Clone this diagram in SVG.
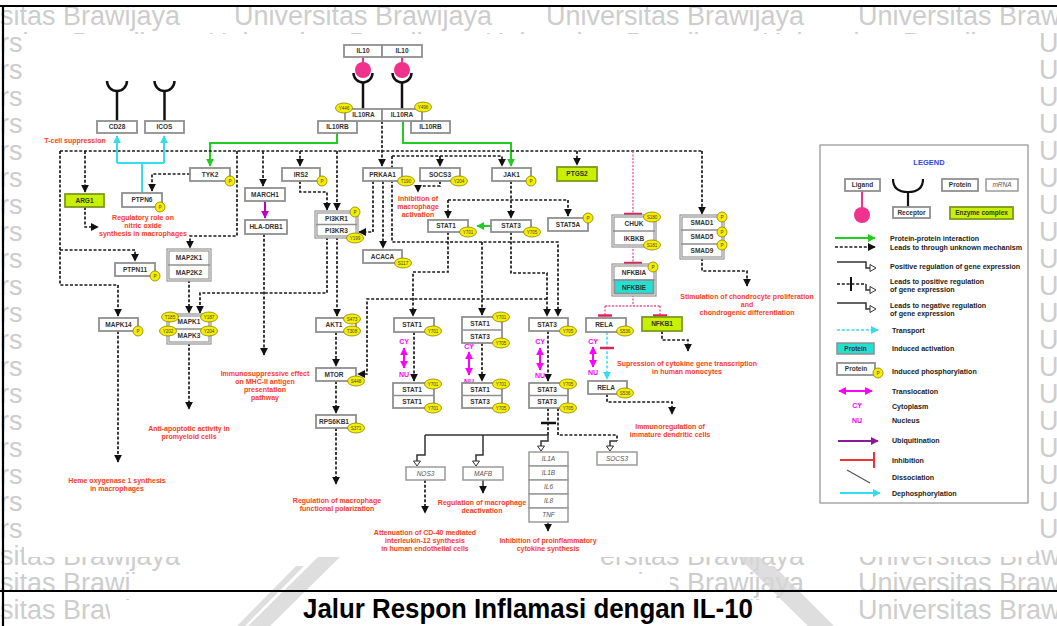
<svg xmlns="http://www.w3.org/2000/svg" width="1057" height="626" viewBox="0 0 1057 626">
<style>
.bx{fill:#fff;stroke:#8f8f8f;stroke-width:1.8}
.cx{fill:#fff;stroke:#949494;stroke-width:3.2}
.cxi{fill:none;stroke:#fff;stroke-width:0.8}
.sep{stroke:#8f8f8f;stroke-width:1.5}
.enz{fill:#c8f000;stroke:#7f9a20;stroke-width:1.8}
.act{fill:#22e0d2;stroke:#8f8f8f;stroke-width:1.5}
.mr{fill:#fff;stroke:#9a9a9a;stroke-width:1.5}
.t{font-family:"Liberation Sans",Arial,sans-serif;font-weight:bold;font-size:6.5px;fill:#333;text-anchor:middle}
.ti{font-family:"Liberation Sans",Arial,sans-serif;font-style:italic;font-size:6.5px;fill:#555;text-anchor:middle}
.n{font-family:"Liberation Sans",Arial,sans-serif;font-weight:bold;font-size:7px;fill:#ff3b1f;text-anchor:middle}
.s ellipse,.p circle{fill:#f6ee00;stroke:#8a8200;stroke-width:0.8}
.s text,.p text{font-family:"Liberation Sans",Arial,sans-serif;font-size:4.6px;fill:#444;text-anchor:middle}
.d{fill:none;stroke:#1a1a1a;stroke-width:1.7;stroke-dasharray:3 1.8}
.sl{fill:none;stroke:#333;stroke-width:1.5}
.g{fill:none;stroke:#22cc22;stroke-width:2}
.c{fill:none;stroke:#33dded;stroke-width:2}
.cd{fill:none;stroke:#33dded;stroke-width:1.5;stroke-dasharray:3 1.8}
.pk{fill:none;stroke:#f0508a;stroke-width:1.3;stroke-dasharray:2 1.5}
.bar{stroke:#e0245a;stroke-width:2.5}
.mg{stroke:#ff00ff;stroke-width:2}
.cy{font-family:"Liberation Sans",Arial,sans-serif;font-weight:bold;font-size:7px;fill:#ff00ff;text-anchor:middle}
.lg{font-family:"Liberation Sans",Arial,sans-serif;font-weight:bold;font-size:7.1px;fill:#222}
.tri{fill:#fff;stroke:#333;stroke-width:1}
.wm{font-family:"Liberation Sans Narrow","Liberation Sans",Arial,sans-serif;font-size:27px;fill:#cdcdcd}
</style>
<defs>
<marker id="ah" viewBox="0 0 10 10" refX="9" refY="5" markerWidth="8" markerHeight="8" markerUnits="userSpaceOnUse" orient="auto"><path d="M0,0 L10,5 L0,10 z" fill="#111"/></marker>
<marker id="ag" viewBox="0 0 10 10" refX="9" refY="5" markerWidth="8" markerHeight="8" markerUnits="userSpaceOnUse" orient="auto"><path d="M0,0 L10,5 L0,10 z" fill="#22cc22"/></marker>
<marker id="ac" viewBox="0 0 10 10" refX="9" refY="5" markerWidth="8" markerHeight="8" markerUnits="userSpaceOnUse" orient="auto"><path d="M0,0 L10,5 L0,10 z" fill="#33dded"/></marker>
<marker id="am" viewBox="0 0 10 10" refX="9" refY="5" markerWidth="8" markerHeight="8" markerUnits="userSpaceOnUse" orient="auto-start-reverse"><path d="M0,0 L10,5 L0,10 z" fill="#ff00ff"/></marker>
<marker id="amv" viewBox="0 0 10 10" refX="9" refY="5" markerWidth="8" markerHeight="8" markerUnits="userSpaceOnUse" orient="auto"><path d="M0,0 L10,5 L0,10 z" fill="#c000c0"/></marker>
<marker id="ap" viewBox="0 0 10 10" refX="9" refY="5" markerWidth="8" markerHeight="8" markerUnits="userSpaceOnUse" orient="auto"><path d="M0,0 L10,5 L0,10 z" fill="#8b1a9b"/></marker>
<!-- watermark rows: wide spacing (edges of the page) and tight spacing (behind the figure) -->
<g id="wmA">
<text class="wm" x="-78" textLength="258" lengthAdjust="spacingAndGlyphs">Universitas Brawijaya</text>
<text class="wm" x="234" textLength="258" lengthAdjust="spacingAndGlyphs">Universitas Brawijaya</text>
<text class="wm" x="546" textLength="258" lengthAdjust="spacingAndGlyphs">Universitas Brawijaya</text>
<text class="wm" x="858" textLength="258" lengthAdjust="spacingAndGlyphs">Universitas Brawijaya</text>
</g>
<g id="wmB">
<text class="wm" x="-69" textLength="258" lengthAdjust="spacingAndGlyphs">Universitas Brawijaya</text>
<text class="wm" x="208" textLength="258" lengthAdjust="spacingAndGlyphs">Universitas Brawijaya</text>
<text class="wm" x="485" textLength="258" lengthAdjust="spacingAndGlyphs">Universitas Brawijaya</text>
<text class="wm" x="762" textLength="258" lengthAdjust="spacingAndGlyphs">Universitas Brawijaya</text>
<text class="wm" x="1039" textLength="258" lengthAdjust="spacingAndGlyphs">Universitas Brawijaya</text>
</g>
</defs>

<!-- page background with watermark -->
<rect x="0" y="0" width="1057" height="626" fill="#fff"/>
<g id="watermark">
<use href="#wmA" y="25"/>
<use href="#wmB" y="52"/><use href="#wmB" y="79"/><use href="#wmB" y="106"/>
<use href="#wmB" y="133"/><use href="#wmB" y="160"/><use href="#wmB" y="187"/><use href="#wmB" y="214"/>
<use href="#wmB" y="241"/><use href="#wmB" y="268"/><use href="#wmB" y="295"/><use href="#wmB" y="322"/>
<use href="#wmB" y="349"/><use href="#wmB" y="376"/><use href="#wmB" y="403"/><use href="#wmB" y="430"/>
<use href="#wmB" y="457"/><use href="#wmB" y="484"/><use href="#wmB" y="511"/><use href="#wmB" y="538"/>
<use href="#wmA" y="565"/><use href="#wmA" y="592"/><use href="#wmA" y="619"/>
<!-- emblem area: blank interior with two pairs of diagonal strokes -->
<rect x="200" y="557" width="400" height="17" fill="#fff"/>
<rect x="130" y="574" width="540" height="26" fill="#fff"/>
<rect x="110" y="600" width="748" height="26" fill="#fff"/>
<g fill="#d6d6d6" opacity="0.8">
<polygon points="318,557 340,557 270,626 248,626"/>
<polygon points="296,566 304,566 245,626 237,626"/>
<polygon points="738,557 760,557 830,626 808,626"/>
<polygon points="766,566 774,566 834,626 826,626"/>
</g>
</g>
<rect id="canvas" x="24" y="34" width="1012" height="523" fill="#fff"/>

<!-- frame and caption -->
<g id="frame" stroke="#000" stroke-width="2.2">
<line x1="0" y1="6" x2="1057" y2="6"/>
<line x1="3" y1="6" x2="3" y2="626"/>
<line x1="0" y1="591" x2="1057" y2="591"/>
</g>
<text id="caption" x="528" y="618" text-anchor="middle" font-family="Liberation Sans Narrow, Liberation Sans, Arial, sans-serif" font-weight="bold" font-size="27" fill="#000" textLength="450" lengthAdjust="spacingAndGlyphs">Jalur Respon Inflamasi dengan IL-10</text>

<!-- connectors -->
<g id="edges">
<path class="g" d="M337,133 V143 H210 V166" marker-end="url(#ag)"/>
<path class="g" d="M403,121 V143 H511 V166" marker-end="url(#ag)"/>
<path class="g" d="M491,226 H477" marker-end="url(#ag)"/>

<path class="d" d="M60,151 H702"/>
<path class="d" d="M60,151 V285 H118 V316" marker-end="url(#ah)"/>
<path class="d" d="M60,250 H135 V261" marker-end="url(#ah)"/>
<path class="d" d="M85,151 V192" marker-end="url(#ah)"/>
<path class="d" d="M85,207 V227 H98" marker-end="url(#ah)"/>
<path class="d" d="M237,151 V236 H190 V248" marker-end="url(#ah)"/>
<path class="d" d="M263,151 V186" marker-end="url(#ah)"/>
<path class="d" d="M300,151 V166" marker-end="url(#ah)"/>
<path class="d" d="M337,151 V210" marker-end="url(#ah)"/>
<path class="d" d="M382,121 V166" marker-end="url(#ah)"/>
<path class="d" d="M577,151 V165" marker-end="url(#ah)"/>
<path class="d" d="M702,151 V214" marker-end="url(#ah)"/>
<path class="d" d="M190,174 H152 V191" marker-end="url(#ah)"/>
<path class="d" d="M392,156 H502 V166" marker-end="url(#ah)"/>
<path class="d" d="M440,156 V166" marker-end="url(#ah)"/>
<path class="d" d="M392,156 V242 H558 V316" marker-end="url(#ah)"/>
<path class="d" d="M300,181 V192 H327 V210" marker-end="url(#ah)"/>
<path class="d" d="M373,181 V232 H359" marker-end="url(#ah)"/>
<path class="d" d="M383,181 V248" marker-end="url(#ah)"/>
<path class="d" d="M440,181 V186 H418 V192" marker-end="url(#ah)"/>
<path class="d" d="M511,181 V218" marker-end="url(#ah)"/>
<path class="d" d="M448,200 H568 V216" marker-end="url(#ah)"/>
<path class="d" d="M448,200 V218" marker-end="url(#ah)"/>
<path class="d" d="M448,232 V272 H413 V316" marker-end="url(#ah)"/>
<path class="d" d="M482,242 V315" marker-end="url(#ah)"/>
<path class="d" d="M511,232 V273 H547 V316" marker-end="url(#ah)"/>
<path class="d" d="M547,299 H367 V374 H358" marker-end="url(#ah)"/>
<path class="d" d="M327,237 V293 H200 V313" marker-end="url(#ah)"/>
<path class="d" d="M337,237 V316" marker-end="url(#ah)"/>
<path class="d" d="M189,280 V313" marker-end="url(#ah)"/>
<path class="d" d="M264,234 V355" marker-end="url(#ah)"/>
<path class="d" d="M118,331 V462" marker-end="url(#ah)"/>
<path class="d" d="M189,343 V409" marker-end="url(#ah)"/>
<path class="d" d="M336,332 V366" marker-end="url(#ah)"/>
<path class="d" d="M336,381 V413" marker-end="url(#ah)"/>
<path class="d" d="M336,428 V484" marker-end="url(#ah)"/>
<path class="d" d="M414,332 V381" marker-end="url(#ah)"/>
<path class="d" d="M482,343 V381" marker-end="url(#ah)"/>
<path class="d" d="M548,331 V381" marker-end="url(#ah)"/>
<path class="d" d="M425,480 V513" marker-end="url(#ah)"/>
<path class="d" d="M607,394 V402 H672 V414" marker-end="url(#ah)"/>
<path class="d" d="M662,331 V340 H688 V351" marker-end="url(#ah)"/>
<path class="d" d="M702,258 V271 H747 V286" marker-end="url(#ah)"/>

<!-- transcriptional outputs of the nuclear STAT3 dimer -->
<path class="d" d="M548,408 V435"/>
<line x1="541" y1="423" x2="556" y2="423" stroke="#111" stroke-width="2.5"/>
<path class="d" d="M558,408 V435 H617 V441"/>
<path class="sl" d="M425,435 H548"/>
<path class="sl" d="M425,435 V455 H417 V461"/>
<polygon class="tri" points="413.5,461 420.5,461 417,466"/>
<path class="sl" d="M483,435 V455 H476 V461"/>
<polygon class="tri" points="472.5,461 479.5,461 476,466"/>
<path class="sl" d="M548,435 V441 H541 V446"/>
<polygon class="tri" points="537.5,446 544.5,446 541,451"/>
<path class="sl" d="M617,441 H610 V446"/>
<polygon class="tri" points="606.5,446 613.5,446 610,451"/>
<path class="sl" d="M483,480 V493" marker-end="url(#ah)"/>
<path class="sl" d="M548,522 V531" marker-end="url(#ah)"/>

<!-- dephosphorylation of CD28 / ICOS -->
<path class="c" d="M142,193 V163"/>
<path class="c" d="M117,163 H164"/>
<path class="c" d="M117,163 V136" marker-end="url(#ac)"/>
<path class="c" d="M164,163 V136" marker-end="url(#ac)"/>

<!-- ubiquitination -->
<path d="M265,201 V218" stroke="#c000c0" stroke-width="2" fill="none" marker-end="url(#amv)"/>

<!-- NF-kB inhibition chain -->
<path class="pk" d="M633,151 V264"/>
<line class="bar" x1="624" y1="214" x2="642" y2="214"/>
<line class="bar" x1="624" y1="263" x2="642" y2="263"/>
<path class="pk" d="M633,295 V306 M605,306 H660 M605,306 V315 M660,306 V315"/>
<line class="bar" x1="598" y1="315.5" x2="612" y2="315.5"/>
<line class="bar" x1="653" y1="315.5" x2="667" y2="315.5"/>
<path class="cd" d="M607,332 V379" marker-end="url(#ac)"/>
<line class="bar" x1="600" y1="348" x2="614" y2="348"/>

<!-- nuclear translocation -->
<g id="translocation">
<path class="mg" d="M404,348 V368" marker-start="url(#am)" marker-end="url(#am)"/>
<text class="cy" x="404" y="344">CY</text><text class="cy" x="404" y="377">NU</text>
<path class="mg" d="M469,352 V375" marker-start="url(#am)" marker-end="url(#am)"/>
<text class="cy" x="469" y="349">CY</text><text class="cy" x="469" y="384">NU</text>
<path class="mg" d="M540,348 V370" marker-start="url(#am)" marker-end="url(#am)"/>
<text class="cy" x="540" y="344">CY</text><text class="cy" x="540" y="378">NU</text>
<path class="mg" d="M593,347 V367" marker-start="url(#am)" marker-end="url(#am)"/>
<text class="cy" x="593" y="344">CY</text><text class="cy" x="593" y="375">NU</text>
</g>
</g>

<!-- ligand and receptors -->
<g id="n-il10">
<line x1="363" y1="57" x2="363" y2="64" stroke="#f0328c" stroke-width="2"/>
<line x1="402" y1="57" x2="402" y2="64" stroke="#f0328c" stroke-width="2"/>
<circle cx="363" cy="70" r="8" fill="#f0328c"/>
<circle cx="402" cy="70" r="8" fill="#f0328c"/>
<rect class="bx" x="344" y="45" width="38" height="12"/>
<rect class="bx" x="382" y="45" width="40" height="12"/>
<text class="t" x="363" y="53.3">IL10</text>
<text class="t" x="402" y="53.3">IL10</text>
</g>
<g id="n-il10r-arcs" fill="none" stroke="#111" stroke-width="2.5">
<path d="M353.5,73 A9.5,9.5 0 0 0 372.5,73"/>
<path d="M392.5,73 A9.5,9.5 0 0 0 411.5,73"/>
<line x1="363" y1="82.5" x2="363" y2="109"/>
<line x1="402" y1="82.5" x2="402" y2="109"/>
<path d="M107,81 A10,10 0 0 0 127,81"/>
<path d="M154.5,81 A10,10 0 0 0 174.5,81"/>
<line x1="117" y1="91" x2="117" y2="121"/>
<line x1="164.5" y1="91" x2="164.5" y2="121"/>
</g>
<g id="n-il10rb">
<rect class="bx" x="318" y="121" width="39" height="12"/><text class="t" x="337.5" y="129.3">IL10RB</text>
<rect class="bx" x="411" y="121" width="39" height="12"/><text class="t" x="430.5" y="129.3">IL10RB</text>
</g>
<g id="n-il10ra">
<rect class="bx" x="345" y="109" width="37" height="12"/><text class="t" x="363.5" y="117.3">IL10RA</text>
<rect class="bx" x="382" y="109" width="40" height="12"/><text class="t" x="402" y="117.3">IL10RA</text>
<g class="s"><ellipse cx="344" cy="108" rx="8.5" ry="5"/><text x="344" y="109.7">Y446</text></g>
<g class="s"><ellipse cx="423" cy="107" rx="8.5" ry="5"/><text x="423" y="108.7">Y496</text></g>
</g>
<g id="n-cd28"><rect class="bx" x="97" y="121" width="40" height="12"/><text class="t" x="117" y="129.3">CD28</text></g>
<g id="n-icos"><rect class="bx" x="145" y="121" width="39" height="12"/><text class="t" x="164.5" y="129.3">ICOS</text></g>

<!-- cytoplasmic signalling nodes -->
<g id="n-tyk2"><rect class="bx" x="190" y="168" width="40" height="13"/><text class="t" x="210" y="176.8">TYK2</text>
<g class="p"><circle cx="230" cy="181" r="5"/><text x="230" y="182.7">P</text></g></g>
<g id="n-arg1"><rect class="enz" x="65" y="194" width="39" height="13"/><text class="t" x="84.5" y="202.8">ARG1</text></g>
<g id="n-ptpn6"><rect class="bx" x="122" y="193" width="40" height="14"/><text class="t" x="142" y="202.3">PTPN6</text>
<g class="p"><circle cx="160" cy="207" r="5"/><text x="160" y="208.7">P</text></g></g>
<g id="n-ptpn11"><rect class="bx" x="115" y="263" width="40" height="13"/><text class="t" x="135" y="271.8">PTPN11</text>
<g class="p"><circle cx="155" cy="276" r="5"/><text x="155" y="277.7">P</text></g></g>
<g id="n-map2k">
<rect class="cx" x="168" y="250" width="42" height="30"/><rect class="cxi" x="168" y="250" width="42" height="30"/>
<line class="sep" x1="168" y1="265" x2="210" y2="265"/>
<text class="t" x="189" y="259.8">MAP2K1</text><text class="t" x="189" y="274.8">MAP2K2</text>
</g>
<g id="n-march1"><rect class="bx" x="245" y="188" width="40" height="13"/><text class="t" x="265" y="196.8">MARCH1</text></g>
<g id="n-hladrb1"><rect class="bx" x="245" y="220" width="42" height="14"/><text class="t" x="266" y="229.3">HLA-DRB1</text></g>
<g id="n-irs2"><rect class="bx" x="282" y="168" width="38" height="13"/><text class="t" x="301" y="176.8">IRS2</text>
<g class="p"><circle cx="322" cy="181" r="5"/><text x="322" y="182.7">P</text></g></g>
<g id="n-pi3kr">
<rect class="cx" x="316" y="212" width="41" height="25"/><rect class="cxi" x="316" y="212" width="41" height="25"/>
<line class="sep" x1="316" y1="224.5" x2="357" y2="224.5"/>
<text class="t" x="336.5" y="220.8">PI3KR1</text><text class="t" x="336.5" y="233.3">PI3KR3</text>
<g class="p"><circle cx="355" cy="212" r="5"/><text x="355" y="213.7">P</text></g>
<g class="s"><ellipse cx="355" cy="238" rx="8.5" ry="5"/><text x="355" y="239.7">Y199</text></g>
</g>
<g id="n-prkaa1"><rect class="bx" x="363" y="168" width="39" height="13"/><text class="t" x="382.5" y="176.8">PRKAA1</text>
<g class="s"><ellipse cx="406" cy="181" rx="8.5" ry="5"/><text x="406" y="182.7">T190</text></g></g>
<g id="n-acaca"><rect class="bx" x="363" y="250" width="39" height="13"/><text class="t" x="382.5" y="258.8">ACACA</text>
<g class="s"><ellipse cx="403" cy="263" rx="8.5" ry="5"/><text x="403" y="264.7">S117</text></g></g>
<g id="n-socs3"><rect class="bx" x="420" y="168" width="40" height="13"/><text class="t" x="440" y="176.8">SOCS3</text>
<g class="s"><ellipse cx="459" cy="181" rx="8.5" ry="5"/><text x="459" y="182.7">Y204</text></g></g>
<g id="n-jak1"><rect class="bx" x="492" y="168" width="39" height="13"/><text class="t" x="511.5" y="176.8">JAK1</text>
<g class="p"><circle cx="531" cy="181" r="5"/><text x="531" y="182.7">P</text></g></g>
<g id="n-stat1a"><rect class="bx" x="428" y="220" width="40" height="12"/><text class="t" x="446" y="228.3">STAT1</text>
<g class="s"><ellipse cx="468" cy="232" rx="8.5" ry="5"/><text x="468" y="233.7">Y701</text></g></g>
<g id="n-stat3a"><rect class="bx" x="491" y="220" width="40" height="12"/><text class="t" x="511" y="228.3">STAT3</text>
<g class="s"><ellipse cx="532" cy="232" rx="8.5" ry="5"/><text x="532" y="233.7">Y705</text></g></g>
<g id="n-stat5a"><rect class="bx" x="548" y="218" width="40" height="13"/><text class="t" x="568" y="226.8">STAT5A</text>
<g class="p"><circle cx="588" cy="218" r="5"/><text x="588" y="219.7">P</text></g></g>
<g id="n-ptgs2"><rect class="enz" x="557" y="167" width="40" height="14"/><text class="t" x="577" y="176.3">PTGS2</text></g>
<g id="n-ikk">
<rect class="cx" x="613" y="216" width="42" height="30"/><rect class="cxi" x="613" y="216" width="42" height="30"/>
<line class="sep" x1="613" y1="231" x2="655" y2="231"/>
<text class="t" x="634" y="225.8">CHUK</text><text class="t" x="634" y="240.8">IKBKB</text>
<g class="s"><ellipse cx="652" cy="217" rx="8.5" ry="5"/><text x="652" y="218.7">S180</text></g>
<g class="s"><ellipse cx="652" cy="245" rx="8.5" ry="5"/><text x="652" y="246.7">S181</text></g>
</g>
<g id="n-nfkbi">
<rect class="cx" x="613" y="265" width="42" height="30"/>
<rect class="act" x="614.5" y="280" width="39" height="13.5"/>
<rect class="cxi" x="613" y="265" width="42" height="30"/>
<line class="sep" x1="613" y1="280" x2="655" y2="280"/>
<text class="t" x="634" y="274.8">NFKBIA</text><text class="t" x="634" y="289.8">NFKBIE</text>
<g class="p"><circle cx="653" cy="267" r="5"/><text x="653" y="268.7">P</text></g>
</g>
<g id="n-smad">
<rect class="cx" x="681" y="216" width="42" height="42"/><rect class="cxi" x="681" y="216" width="42" height="42"/>
<line class="sep" x1="681" y1="230" x2="723" y2="230"/><line class="sep" x1="681" y1="244" x2="723" y2="244"/>
<text class="t" x="702" y="225.3">SMAD1</text><text class="t" x="702" y="239.3">SMAD5</text><text class="t" x="702" y="253.3">SMAD9</text>
<g class="p"><circle cx="722" cy="217" r="5"/><text x="722" y="218.7">P</text></g>
<g class="p"><circle cx="722" cy="232" r="5"/><text x="722" y="233.7">P</text></g>
<g class="p"><circle cx="722" cy="245" r="5"/><text x="722" y="246.7">P</text></g>
</g>
<g id="n-mapk14"><rect class="bx" x="99" y="318" width="39" height="13"/><text class="t" x="118.5" y="326.8">MAPK14</text>
<g class="p"><circle cx="138" cy="331" r="5"/><text x="138" y="332.7">P</text></g></g>
<g id="n-mapk">
<rect class="cx" x="168" y="315" width="42" height="28"/><rect class="cxi" x="168" y="315" width="42" height="28"/>
<line class="sep" x1="168" y1="329" x2="210" y2="329"/>
<text class="t" x="189" y="324.3">MAPK1</text><text class="t" x="189" y="338.3">MAPK3</text>
<g class="s"><ellipse cx="170" cy="317" rx="8.5" ry="5"/><text x="170" y="318.7">T185</text></g>
<g class="s"><ellipse cx="209" cy="317" rx="8.5" ry="5"/><text x="209" y="318.7">Y187</text></g>
<g class="s"><ellipse cx="168" cy="331" rx="8.5" ry="5"/><text x="168" y="332.7">Y202</text></g>
<g class="s"><ellipse cx="209" cy="331" rx="8.5" ry="5"/><text x="209" y="332.7">Y204</text></g>
</g>
<g id="n-akt1"><rect class="bx" x="316" y="318" width="40" height="14"/><text class="t" x="334" y="327.3">AKT1</text>
<g class="s"><ellipse cx="352" cy="319" rx="8.5" ry="5"/><text x="352" y="320.7">S473</text></g>
<g class="s"><ellipse cx="352" cy="331" rx="8.5" ry="5"/><text x="352" y="332.7">T308</text></g></g>
<g id="n-mtor"><rect class="bx" x="316" y="368" width="40" height="13"/><text class="t" x="334" y="376.8">MTOR</text>
<g class="s"><ellipse cx="356" cy="381" rx="8.5" ry="5"/><text x="356" y="382.7">S448</text></g></g>
<g id="n-rps6kb1"><rect class="bx" x="316" y="415" width="40" height="13"/><text class="t" x="334" y="423.8">RPS6KB1</text>
<g class="s"><ellipse cx="356" cy="428" rx="8.5" ry="5"/><text x="356" y="429.7">S371</text></g></g>

<!-- STAT dimers, cytoplasm and nucleus -->
<g id="n-stat1c"><rect class="bx" x="394" y="318" width="40" height="14"/><text class="t" x="412" y="327.3">STAT1</text>
<g class="s"><ellipse cx="433" cy="331" rx="8.5" ry="5"/><text x="433" y="332.7">Y701</text></g></g>
<g id="n-stat11n">
<rect class="bx" x="393" y="383" width="41" height="25"/><line class="sep" x1="393" y1="395.5" x2="434" y2="395.5"/>
<text class="t" x="412" y="391.6">STAT1</text><text class="t" x="412" y="404.1">STAT1</text>
<g class="s"><ellipse cx="433" cy="384" rx="8.5" ry="5"/><text x="433" y="385.7">Y701</text></g>
<g class="s"><ellipse cx="433" cy="408" rx="8.5" ry="5"/><text x="433" y="409.7">Y701</text></g>
</g>
<g id="n-stat13c">
<rect class="bx" x="462" y="317" width="40" height="26"/><line class="sep" x1="462" y1="330" x2="502" y2="330"/>
<text class="t" x="480" y="325.8">STAT1</text><text class="t" x="480" y="338.8">STAT3</text>
<g class="s"><ellipse cx="501" cy="317" rx="8.5" ry="5"/><text x="501" y="318.7">Y701</text></g>
<g class="s"><ellipse cx="501" cy="343" rx="8.5" ry="5"/><text x="501" y="344.7">Y705</text></g>
</g>
<g id="n-stat13n">
<rect class="bx" x="462" y="383" width="40" height="25"/><line class="sep" x1="462" y1="395.5" x2="502" y2="395.5"/>
<text class="t" x="480" y="391.6">STAT1</text><text class="t" x="480" y="404.1">STAT3</text>
<g class="s"><ellipse cx="501" cy="384" rx="8.5" ry="5"/><text x="501" y="385.7">Y701</text></g>
<g class="s"><ellipse cx="501" cy="408" rx="8.5" ry="5"/><text x="501" y="409.7">Y705</text></g>
</g>
<g id="n-stat3c"><rect class="bx" x="529" y="318" width="39" height="13"/><text class="t" x="547" y="326.8">STAT3</text>
<g class="s"><ellipse cx="568" cy="331" rx="8.5" ry="5"/><text x="568" y="332.7">Y705</text></g></g>
<g id="n-stat33n">
<rect class="bx" x="529" y="383" width="39" height="25"/><line class="sep" x1="529" y1="395.5" x2="568" y2="395.5"/>
<text class="t" x="547" y="391.6">STAT3</text><text class="t" x="547" y="404.1">STAT3</text>
<g class="s"><ellipse cx="568" cy="384" rx="8.5" ry="5"/><text x="568" y="385.7">Y705</text></g>
<g class="s"><ellipse cx="568" cy="408" rx="8.5" ry="5"/><text x="568" y="409.7">Y705</text></g>
</g>
<g id="n-relac"><rect class="bx" x="586" y="318" width="40" height="14"/><text class="t" x="604" y="327.3">RELA</text>
<g class="s"><ellipse cx="625" cy="331" rx="8.5" ry="5"/><text x="625" y="332.7">S536</text></g></g>
<g id="n-nfkb1"><rect class="enz" x="642" y="317" width="40" height="14"/><text class="t" x="662" y="326.3">NFKB1</text></g>
<g id="n-relan"><rect class="bx" x="588" y="381" width="39" height="13"/><text class="t" x="606" y="389.8">RELA</text>
<g class="s"><ellipse cx="625" cy="393" rx="8.5" ry="5"/><text x="625" y="394.7">S536</text></g></g>

<!-- target genes (mRNA) -->
<g id="n-nos3"><rect class="mr" x="406" y="467" width="39" height="13"/><text class="ti" x="425.5" y="475.8">NOS3</text></g>
<g id="n-mafb"><rect class="mr" x="463" y="467" width="40" height="13"/><text class="ti" x="483" y="475.8">MAFB</text></g>
<g id="n-socs3-mrna"><rect class="mr" x="597" y="452" width="40" height="13"/><text class="ti" x="617" y="460.8">SOCS3</text></g>
<g id="n-cytokines">
<rect class="mr" x="529" y="452" width="39" height="14"/><text class="ti" x="548.5" y="461.3">IL1A</text>
<rect class="mr" x="529" y="466" width="39" height="14"/><text class="ti" x="548.5" y="475.3">IL1B</text>
<rect class="mr" x="529" y="480" width="39" height="14"/><text class="ti" x="548.5" y="489.3">IL6</text>
<rect class="mr" x="529" y="494" width="39" height="14"/><text class="ti" x="548.5" y="503.3">IL8</text>
<rect class="mr" x="529" y="508" width="39" height="14"/><text class="ti" x="548.5" y="517.3">TNF</text>
</g>

<!-- physiological outcomes -->
<g id="outcomes">
<text class="n" x="75" y="143">T-cell suppression</text>
<text class="n" x="143" y="220">Regulatory role on</text>
<text class="n" x="143" y="228">nitric oxide</text>
<text class="n" x="143" y="236">synthesis in macrophages</text>
<text class="n" x="418" y="201">Inhibition of</text>
<text class="n" x="418" y="209">macrophage</text>
<text class="n" x="418" y="217">activation</text>
<text class="n" x="265" y="376">Immunosuppressive effect</text>
<text class="n" x="265" y="384">on MHC-II antigen</text>
<text class="n" x="265" y="392">presentation</text>
<text class="n" x="265" y="400">pathway</text>
<text class="n" x="189" y="431">Anti-apoptotic activity in</text>
<text class="n" x="189" y="439">promyeloid cells</text>
<text class="n" x="117" y="483">Heme oxygenase 1 synthesis</text>
<text class="n" x="117" y="491">in macrophages</text>
<text class="n" x="337" y="503">Regulation of macrophage</text>
<text class="n" x="337" y="511">functional polarization</text>
<text class="n" x="482" y="505">Regulation of macrophage</text>
<text class="n" x="482" y="513">deactivation</text>
<text class="n" x="425" y="535">Attenuation of CD-40 mediated</text>
<text class="n" x="425" y="543">interleukin-12 synthesis</text>
<text class="n" x="425" y="551">in human endothelial cells</text>
<text class="n" x="548" y="543">Inhibition of proinflammatory</text>
<text class="n" x="548" y="551">cytokine synthesis</text>
<text class="n" x="747" y="299">Stimulation of chondrocyte proliferation</text>
<text class="n" x="747" y="307">and</text>
<text class="n" x="747" y="315">chondrogenic differentiation</text>
<text class="n" x="687" y="366">Supression of cytokine gene transcription</text>
<text class="n" x="687" y="374">in human monocytes</text>
<text class="n" x="670" y="429">Immunoregulation of</text>
<text class="n" x="670" y="437">immature dendritic cells</text>
</g>

<!-- legend -->
<g id="legend">
<rect x="820" y="145" width="208" height="358" fill="#fff" stroke="#9a9a9a" stroke-width="1.3"/>
<text x="929" y="165" text-anchor="middle" font-family="Liberation Sans, Arial, sans-serif" font-weight="bold" font-size="7.5" fill="#3344ee">LEGEND</text>
<line x1="862" y1="191" x2="862" y2="208" stroke="#f0328c" stroke-width="2"/>
<circle cx="862" cy="215" r="8" fill="#f0328c"/>
<rect class="bx" x="845" y="179" width="35" height="12"/><text class="t" x="862.5" y="187.3">Ligand</text>
<path d="M893,179 Q893,192 908,192 Q923,192 923,179" fill="none" stroke="#111" stroke-width="2.2"/>
<line x1="908" y1="192" x2="908" y2="207" stroke="#111" stroke-width="2.2"/>
<rect class="bx" x="893" y="207" width="37" height="11"/><text class="t" x="911.5" y="214.8">Receptor</text>
<rect class="bx" x="942" y="179" width="36" height="12"/><text class="t" x="960" y="187.3">Protein</text>
<rect class="mr" x="986" y="179" width="32" height="12"/><text class="ti" x="1002" y="187.3">mRNA</text>
<rect class="enz" x="950" y="207" width="63" height="12"/><text class="t" x="981.5" y="215.3">Enzyme complex</text>

<path class="g" d="M835,238 H875" marker-end="url(#ag)"/>
<text class="lg" x="890" y="240.5">Protein-protein interaction</text>
<path class="d" d="M835,247 H875" marker-end="url(#ah)"/>
<text class="lg" x="890" y="250">Leads to through unknown mechanism</text>
<path class="sl" d="M837,262 H866 V268 H870" stroke="#111" stroke-width="1.8"/>
<polygon class="tri" points="870,264.5 870,271.5 876,268"/>
<text class="lg" x="890" y="269">Positive regulation of gene expression</text>
<path class="d" d="M837,284 H866"/>
<line x1="851" y1="277" x2="851" y2="291" stroke="#111" stroke-width="2"/>
<path class="sl" d="M866,284 V290 H870" stroke="#111"/>
<polygon class="tri" points="870,286.5 870,293.5 876,290"/>
<text class="lg" x="890" y="284">Leads to positive regulation</text>
<text class="lg" x="890" y="292">of gene expression</text>
<path class="sl" d="M837,303 H866 V309 H870" stroke="#111" stroke-width="1.8"/>
<polygon class="tri" points="870,305.5 870,312.5 876,309"/>
<text class="lg" x="890" y="308">Leads to negative regulation</text>
<text class="lg" x="890" y="316">of gene expression</text>
<path class="cd" d="M837,330 H878" marker-end="url(#ac)"/>
<text class="lg" x="892" y="333">Transport</text>
<rect class="act" x="837" y="343" width="37" height="11"/><text class="t" x="855.5" y="350.8">Protein</text>
<text class="lg" x="892" y="350.5">Induced activation</text>
<rect class="bx" x="837" y="363" width="38" height="12"/><text class="t" x="856" y="371.3">Protein</text>
<g class="p"><circle cx="878" cy="373" r="5"/><text x="878" y="374.7">P</text></g>
<text class="lg" x="892" y="373.5">Induced phosphorylation</text>
<path class="mg" d="M839,391 H872" marker-start="url(#am)" marker-end="url(#am)"/>
<text class="lg" x="892" y="393.5">Translocation</text>
<text class="cy" x="857" y="408">CY</text>
<text class="lg" x="892" y="408.5">Cytoplasm</text>
<text class="cy" x="857" y="423">NU</text>
<text class="lg" x="892" y="423">Nucleus</text>
<path d="M838,441 H878" stroke="#8b1a9b" stroke-width="2" marker-end="url(#ap)"/>
<text class="lg" x="892" y="442.5">Ubiquitination</text>
<path d="M840,460 H874" stroke="#ee3333" stroke-width="2"/>
<line x1="874" y1="452" x2="874" y2="468" stroke="#ee3333" stroke-width="2"/>
<text class="lg" x="892" y="462.5">Inhibition</text>
<line x1="847" y1="470" x2="870" y2="483" stroke="#555" stroke-width="1.2"/>
<text class="lg" x="892" y="479.5">Dissociation</text>
<path class="c" d="M840,493 H880" marker-end="url(#ac)"/>
<text class="lg" x="892" y="495.5">Dephosphorylation</text>
</g>
</svg>
